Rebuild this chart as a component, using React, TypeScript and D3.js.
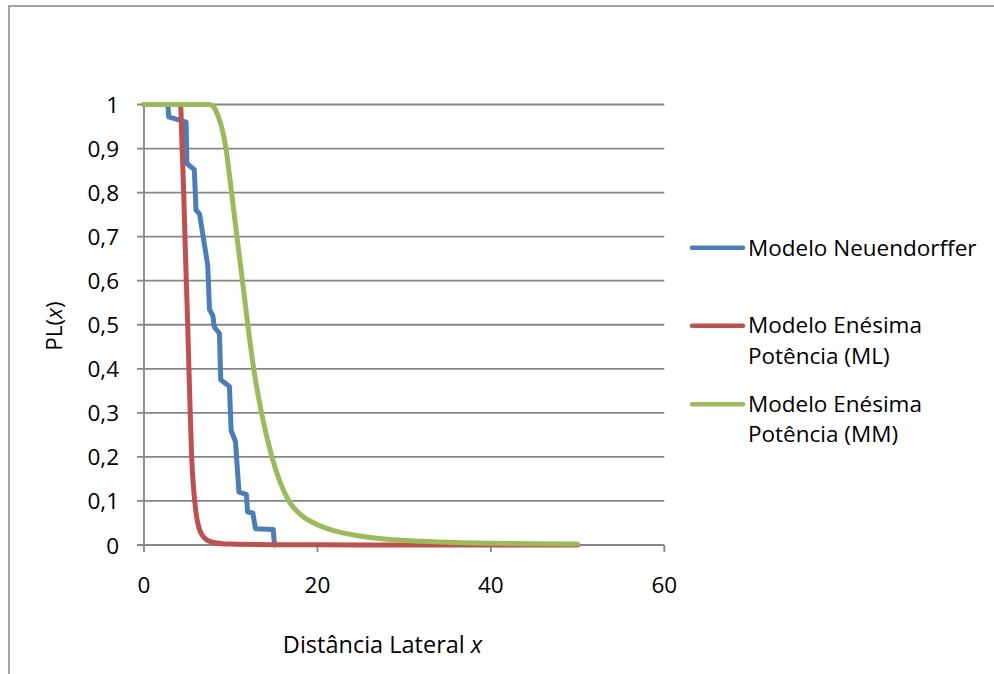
// PL(x) chart – Neuendorffer vs. Enésima Potência models
import React from 'react';
import * as d3 from 'd3';

// data: [x, PL(x)]
const neuendorffer: [number, number][] = [
    [0, 1], [2.75, 1], [2.85, 0.972], [4.85, 0.96], [4.95, 0.866], [5.8, 0.852],
    [6.0, 0.76], [6.4, 0.752], [7.35, 0.635], [7.55, 0.535], [7.95, 0.52],
    [8.1, 0.495], [8.7, 0.48], [8.85, 0.375], [9.85, 0.36], [10.05, 0.26],
    [10.55, 0.235], [10.95, 0.12], [11.8, 0.115], [11.95, 0.075], [12.55, 0.073],
    [12.85, 0.037], [14.9, 0.035], [15.05, 0],
];

const enesimaML: [number, number][] = [
    [0, 1], [4.2, 1], [4.4, 0.9], [4.58, 0.8], [4.72, 0.7], [4.88, 0.6],
    [5.04, 0.5], [5.18, 0.4], [5.33, 0.3], [5.5, 0.2], [5.85, 0.1], [6.1, 0.06],
    [6.4, 0.035], [6.8, 0.02], [7.2, 0.012], [8, 0.006], [9, 0.003], [10, 0.002],
    [15, 0.0006], [20, 0.0003], [30, 0.0001], [40, 0.00005], [50, 0.00003],
];

const enesimaMM: [number, number][] = [
    [0, 1], [7.6, 1], [8, 0.995], [8.5, 0.976], [9, 0.945], [9.45, 0.9],
    [10.1, 0.8], [10.72, 0.7], [11.35, 0.6], [11.97, 0.5], [12.65, 0.4], [13.55, 0.3],
    [14.75, 0.2], [16.7, 0.1], [18, 0.07], [20, 0.046], [22, 0.032], [25, 0.02],
    [28, 0.013], [32, 0.0085], [36, 0.0055], [40, 0.004], [45, 0.0028], [50, 0.002],
];

const xTicks = [0, 20, 40, 60];
const yTicks = [0, 0.1, 0.2, 0.3, 0.4, 0.5, 0.6, 0.7, 0.8, 0.9, 1];

const seriesNames = ['Modelo Neuendorffer', 'Modelo Enésima|Potência (ML)', 'Modelo Enésima|Potência (MM)'];
const seriesColors = ['#4A7EBB', '#C0504D', '#9BBB59'];

export default function App() {
    const width = 994;
    const height = 674;
    const font = "'Open Sans', sans-serif";
    const fs = 22.5;
    const grid = '#868686';

    const x = d3.scaleLinear().domain([0, 60]).range([144, 664.3]);
    const y = d3.scaleLinear().domain([0, 1]).range([545, 104.5]);

    const line = d3.line<[number, number]>()
        .x(d => x(d[0]))
        .y(d => y(d[1]));
    const smooth = d3.line<[number, number]>()
        .x(d => x(d[0]))
        .y(d => y(d[1]))
        .curve(d3.curveMonotoneX);

    const series = [line(neuendorffer), smooth(enesimaML), smooth(enesimaMM)];

    // legend rows: line y, first text baseline
    const legendRows = [
        { ly: 247.7, base: 255.7 },
        { ly: 325.7, base: 333.3 },
        { ly: 404.3, base: 411.7 },
    ];

    return (
        <svg width={width} height={height} style={{ position: 'absolute', left: 0, top: 0 }}>
            <rect x={0} y={0} width={width} height={height} fill="#fff" />
            <rect x={9} y={6} width={1100} height={800} fill="none" stroke={grid} strokeWidth={1.5} />

            {/* gridlines + y labels */}
            {yTicks.map(t => (
                <g key={t}>
                    <line x1={137} x2={x(60)} y1={y(t)} y2={y(t)} stroke={grid} strokeWidth={1.8} />
                    <text x={119} y={y(t)} textAnchor="end" dominantBaseline="central"
                        fontFamily={font} fontSize={fs} fill="#000">
                        {String(t).replace('.', ',')}
                    </text>
                </g>
            ))}

            {/* axes */}
            <line x1={x(0)} x2={x(0)} y1={y(1)} y2={y(0)} stroke={grid} strokeWidth={1.8} />
            {xTicks.map(t => (
                <g key={t}>
                    <line x1={x(t)} x2={x(t)} y1={y(0)} y2={y(0) + 7} stroke={grid} strokeWidth={1.8} />
                    <text x={x(t)} y={593} textAnchor="middle" fontFamily={font} fontSize={fs} fill="#000">
                        {t}
                    </text>
                </g>
            ))}

            {/* series */}
            {series.map((d, i) => (
                <path key={i} d={d ?? ''} fill="none" stroke={seriesColors[i]}
                    strokeWidth={5} strokeLinejoin="round" strokeLinecap="round" />
            ))}

            {/* axis titles */}
            <text x={382.5} y={653} textAnchor="middle" fontFamily={font} fontSize={23.5} fill="#000">
                Distância Lateral <tspan fontStyle="italic">x</tspan>
            </text>
            <text transform="translate(62,326) rotate(-90)" textAnchor="middle"
                fontFamily={font} fontSize={fs} fill="#000">
                PL(<tspan fontStyle="italic">x</tspan>)
            </text>

            {/* legend */}
            {seriesNames.map((name, i) => (
                <g key={name}>
                    <line x1={692} x2={743} y1={legendRows[i].ly} y2={legendRows[i].ly}
                        stroke={seriesColors[i]} strokeWidth={4.5} strokeLinecap="round" />
                    {name.split('|').map((part, j) => (
                        <text key={j} x={748} y={legendRows[i].base + j * 30.5}
                            fontFamily={font} fontSize={fs} fill="#000">
                            {part}
                        </text>
                    ))}
                </g>
            ))}
        </svg>
    );
}
